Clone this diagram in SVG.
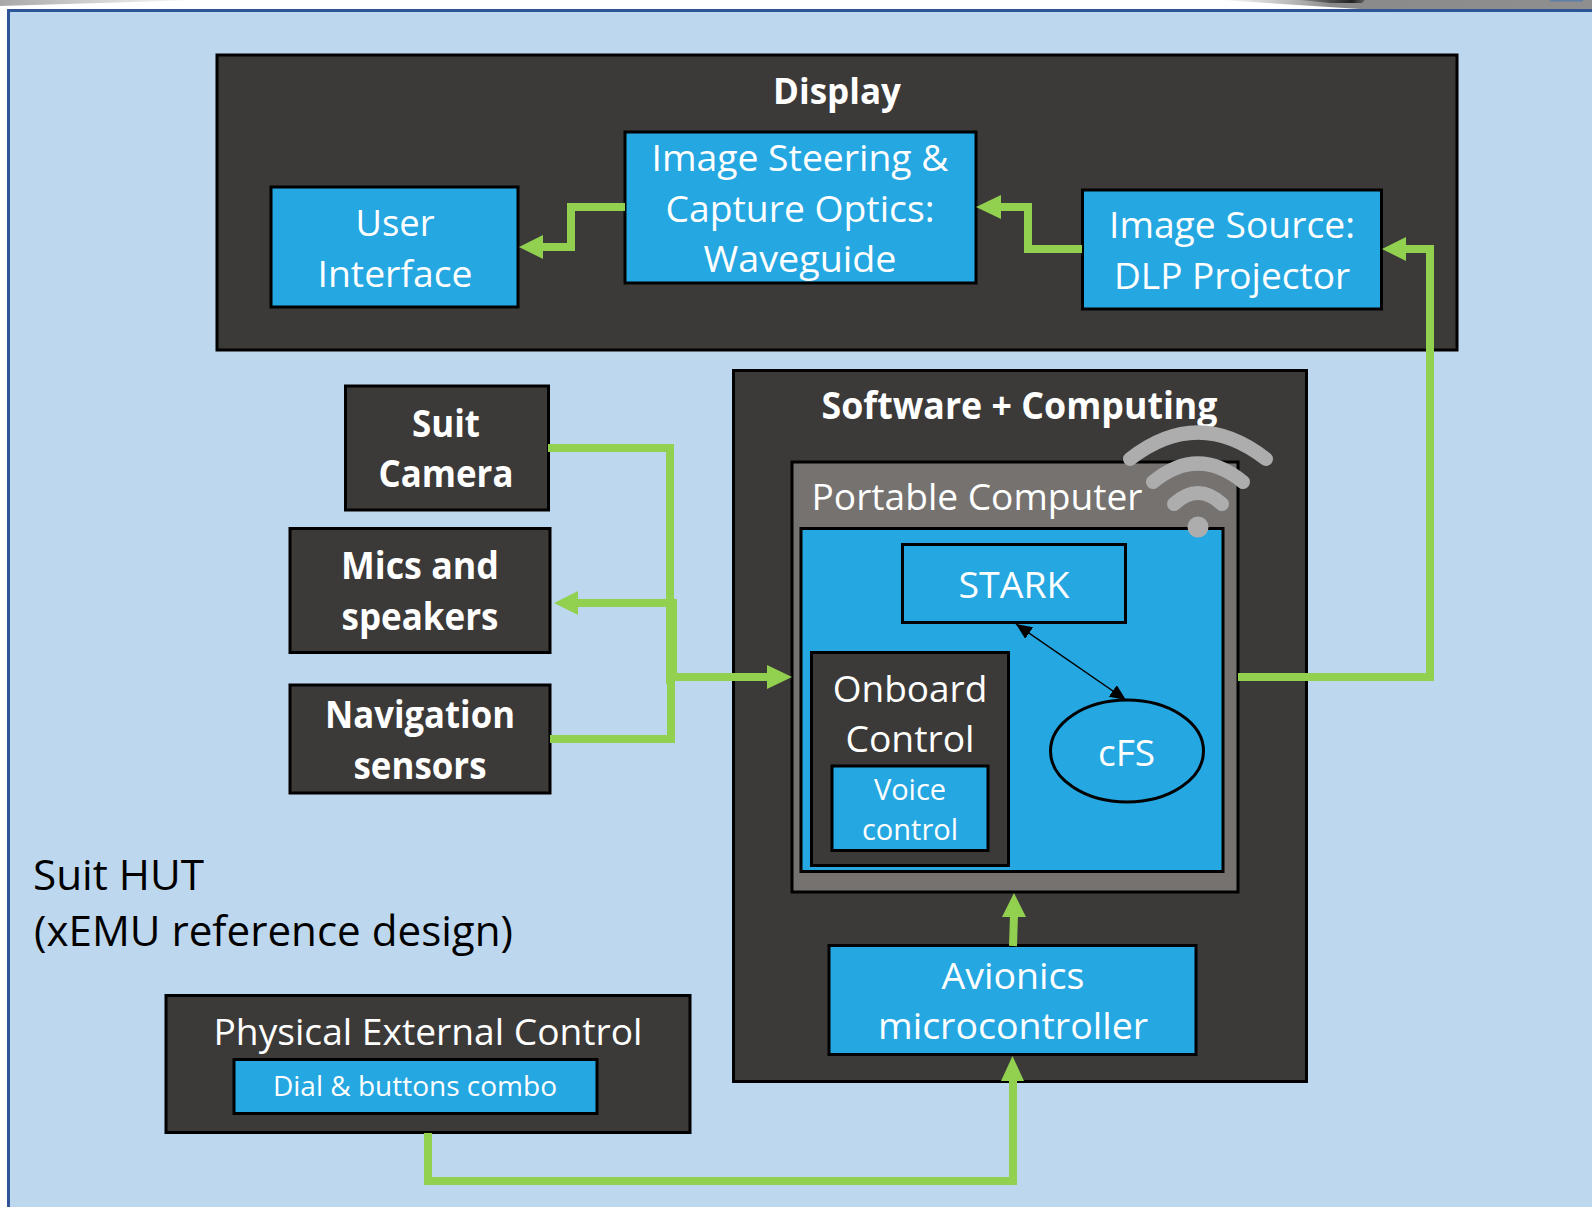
<svg xmlns="http://www.w3.org/2000/svg" width="1592" height="1207" viewBox="0 0 1592 1207">
<style>
text{font-family:"Open Sans","Noto Sans","Liberation Sans",sans-serif;fill:#fff;text-anchor:middle;font-size:37px}
.b{font-weight:700}
.k{fill:#000;text-anchor:start;font-size:42px}
.dark{fill:#3B3A38;stroke:#000;stroke-width:3}
.blue{fill:#25A7E2;stroke:#000;stroke-width:3}
.grey{fill:#767270;stroke:#000;stroke-width:3}
.g{fill:none;stroke:#92D050;stroke-width:8}
.gh{fill:#92D050}
.w{fill:none;stroke:#ADADAD;stroke-width:14;stroke-linecap:round}
</style>
<defs>
<linearGradient id="tl" x1="0" x2="1" y1="0" y2="0"><stop offset="0" stop-color="#a8a8a8"/><stop offset="1" stop-color="#fff"/></linearGradient>
<linearGradient id="tr" x1="0" x2="1" y1="0" y2="0"><stop offset="0" stop-color="#fff"/><stop offset=".2" stop-color="#b5b5b5"/><stop offset=".3" stop-color="#8a8a8a"/><stop offset="1" stop-color="#8f8f8f"/></linearGradient>
<linearGradient id="trd" x1="0" x2="1" y1="0" y2="0"><stop offset="0" stop-color="#888"/><stop offset=".8" stop-color="#222"/><stop offset="1" stop-color="#666"/></linearGradient>
<marker id="bk" viewBox="0 0 10 10" refX="10" refY="5" markerWidth="16" markerHeight="14" markerUnits="userSpaceOnUse" orient="auto-start-reverse" preserveAspectRatio="none"><path d="M0 0L10 5L0 10Z" fill="#000"/></marker>
</defs>
<rect width="1592" height="1207" fill="#fff"/>
<polygon points="0,0 200,0 0,6" fill="url(#tl)"/>
<polygon points="1220,0 1592,0 1592,9 1360,9" fill="url(#tr)"/>
<polygon points="1300,0 1365,0 1362,3 1330,3" fill="url(#trd)"/>
<rect x="1550" y="0" width="33" height="1.500" fill="#5f7fa8"/>
<rect id="frame" x="8.500" y="10.500" width="1600" height="1220" fill="#BDD7EE" stroke="#2F5597" stroke-width="3"/>

<g id="display"><rect class="dark" x="217" y="55" width="1240" height="295"/><text class="b" x="837" y="104" style="font-size:35px" textLength="128" lengthAdjust="spacingAndGlyphs">Display</text></g>
<g id="user-interface"><rect class="blue" x="271" y="187" width="247" height="120"/><text x="395" y="236" textLength="79" lengthAdjust="spacingAndGlyphs">User</text><text x="395" y="287" textLength="155" lengthAdjust="spacingAndGlyphs">Interface</text></g>
<g id="image-steering"><rect class="blue" x="625" y="132" width="351" height="151"/><text x="800" y="171" textLength="297" lengthAdjust="spacingAndGlyphs">Image Steering &amp;</text><text x="800" y="222" textLength="269" lengthAdjust="spacingAndGlyphs">Capture Optics:</text><text x="800" y="272" textLength="193" lengthAdjust="spacingAndGlyphs">Waveguide</text></g>
<g id="image-source"><rect class="blue" x="1082.500" y="190" width="299" height="119"/><text x="1232" y="238" textLength="246" lengthAdjust="spacingAndGlyphs">Image Source:</text><text x="1232" y="289" textLength="236" lengthAdjust="spacingAndGlyphs">DLP Projector</text></g>

<g id="suit-camera"><rect class="dark" x="345.500" y="386" width="203" height="124"/><text class="b" x="446" y="437" textLength="68" lengthAdjust="spacingAndGlyphs">Suit</text><text class="b" x="446" y="487" textLength="135" lengthAdjust="spacingAndGlyphs">Camera</text></g>
<g id="mics"><rect class="dark" x="290" y="528.500" width="260" height="124"/><text class="b" x="420" y="579" textLength="158" lengthAdjust="spacingAndGlyphs">Mics and</text><text class="b" x="420" y="630" textLength="157" lengthAdjust="spacingAndGlyphs">speakers</text></g>
<g id="nav"><rect class="dark" x="290" y="685" width="260" height="108"/><text class="b" x="420" y="728" textLength="190" lengthAdjust="spacingAndGlyphs">Navigation</text><text class="b" x="420" y="779" textLength="133" lengthAdjust="spacingAndGlyphs">sensors</text></g>

<g id="software"><rect class="dark" x="733.500" y="370.500" width="573" height="711"/><text class="b" x="1019.500" y="419" textLength="396" lengthAdjust="spacingAndGlyphs">Software + Computing</text></g>
<g id="portable"><rect class="grey" x="792" y="462" width="446" height="430"/><text x="977" y="510" textLength="331" lengthAdjust="spacingAndGlyphs">Portable Computer</text><rect class="blue" x="801" y="528.500" width="422" height="343"/></g>
<g id="stark"><rect class="blue" x="902.500" y="544.500" width="223" height="78"/><text x="1014" y="598" textLength="111" lengthAdjust="spacingAndGlyphs">STARK</text></g>
<g id="onboard"><rect class="dark" x="811.500" y="652.500" width="197" height="213"/><text x="910" y="702">Onboard</text><text x="910" y="752" textLength="129" lengthAdjust="spacingAndGlyphs">Control</text></g>
<g id="voice"><rect class="blue" x="832" y="766" width="156" height="84.500"/><text x="910" y="800" style="font-size:29px">Voice</text><text x="910" y="840" style="font-size:29px">control</text></g>
<g id="cfs"><ellipse class="blue" cx="1127" cy="751" rx="76.500" ry="51"/><text x="1126.500" y="766">cFS</text></g>
<g id="wifi"><path class="w" d="M1130 459Q1198 406 1266 459"/><path class="w" d="M1153 482Q1198 445 1243 482"/><path class="w" d="M1174 504Q1198 482 1222 504"/><circle cx="1198" cy="527" r="10.500" fill="#ADADAD"/></g>
<g id="avionics"><rect class="blue" x="829" y="945.500" width="367" height="109"/><text x="1013" y="989" textLength="143" lengthAdjust="spacingAndGlyphs">Avionics</text><text x="1013" y="1039" textLength="270" lengthAdjust="spacingAndGlyphs">microcontroller</text></g>

<g id="physical"><rect class="dark" x="166" y="995.500" width="524" height="137"/><text x="428" y="1045" textLength="429" lengthAdjust="spacingAndGlyphs">Physical External Control</text><rect class="blue" x="234" y="1059.500" width="363" height="54"/><text x="415" y="1096" style="font-size:28px">Dial &amp; buttons combo</text></g>
<g id="suit-hut"><text class="k" x="33" y="890" textLength="171" lengthAdjust="spacingAndGlyphs">Suit HUT</text><text class="k" x="34" y="946" textLength="479" lengthAdjust="spacingAndGlyphs">(xEMU reference design)</text></g>

<g id="connectors">
<path class="g" d="M625 207H571V247H540"/><polygon class="gh" points="519,247 543,235 543,259"/>
<path class="g" d="M1082 249H1028V207H1000"/><polygon class="gh" points="976,207 1001,195 1001,219"/>
<path class="g" d="M1238 677H1430V249H1404"/><polygon class="gh" points="1382,249 1406,237 1406,261"/>
<path class="g" d="M548 448H670V684"/>
<path class="g" d="M671 680V739H550"/>
<path class="g" d="M676 603H576"/><polygon class="gh" points="554,603 578,591 578,615"/>
<path d="M666 600V679H677V599Z" fill="#92D050"/>
<path class="g" d="M668 677H770"/><polygon class="gh" points="792,677 767,665 767,689"/>
<path class="g" d="M428 1133V1181H1013V1078"/><polygon class="gh" points="1012.500,1056 1001,1081 1024,1081"/>
<path class="g" d="M1013 946L1014 915"/><polygon class="gh" points="1014,893 1002,917 1026,917"/>
<path d="M1016 624L1126 700" fill="none" stroke="#000" stroke-width="1.500" marker-start="url(#bk)" marker-end="url(#bk)"/>
</g>
</svg>
